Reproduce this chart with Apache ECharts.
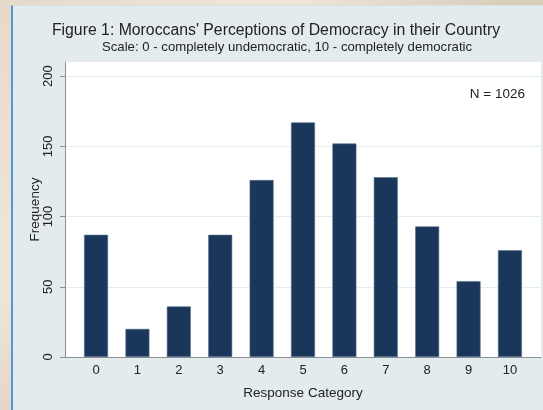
<!DOCTYPE html>
<html>
<head>
<meta charset="utf-8">
<script src="https://cdn.jsdelivr.net/npm/echarts@6/dist/echarts.min.js"></script>
<style>
  html, body { margin: 0; padding: 0; }
  body {
    width: 543px; height: 410px; overflow: hidden; position: relative;
    background: linear-gradient(135deg, #e6d9c8 0%, #efe6da 30%, #d9cbb9 55%, #ece3d6 80%, #ddd0bf 100%);
  }
  .panel {
    position: absolute; left: 11px; top: 5px; width: 532px; height: 405px;
    background: #e3ebee; border-left: 2px solid #5297d6; border-top: 1px solid #d6e1e5;
    box-sizing: border-box;
  }
  .chart { position: absolute; left: 0; top: 0; width: 543px; height: 410px; }
</style>
</head>
<body>
<div class="panel"></div>
<div class="chart"></div>
<script>
// 数据
var categories = [0, 1, 2, 3, 4, 5, 6, 7, 8, 9, 10];
var frequency = [87, 20, 36, 87, 126, 167, 152, 128, 93, 54, 76];
var yTicks = [0, 50, 100, 150, 200];

var chart = echarts.init(document.querySelector(".chart"));

var barData = categories.map(function (c, i) { return [c, frequency[i]]; });

var option = {
  animation: false,
  backgroundColor: 'transparent',
  textStyle: { fontFamily: 'Liberation Sans, Arial, sans-serif' },
  grid: {
    left: 65, right: 2, top: 62, bottom: 53,
    show: true, backgroundColor: '#ffffff', borderWidth: 0
  },
  graphic: [
    {
      type: 'text',
      style: {
        text: "Figure 1: Moroccans' Perceptions of Democracy in their Country",
        x: 276, y: 31, textAlign: 'center', textVerticalAlign: 'middle',
        font: '15.8px "Liberation Sans", Arial, sans-serif', fill: '#222'
      }
    },
    {
      type: 'text',
      style: {
        text: 'Scale: 0 - completely undemocratic, 10 - completely democratic',
        x: 287, y: 47.5, textAlign: 'center', textVerticalAlign: 'middle',
        font: '13.2px "Liberation Sans", Arial, sans-serif', fill: '#222'
      }
    },
    {
      type: 'text',
      style: {
        text: 'N = 1026',
        x: 525, y: 94, textAlign: 'right', textVerticalAlign: 'middle',
        font: '13.5px "Liberation Sans", Arial, sans-serif', fill: '#222'
      }
    }
  ],
  xAxis: {
    type: 'value',
    min: -0.75, max: 10.75,
    name: 'Response Category',
    nameLocation: 'middle', nameGap: 29, nameMoveOverlap: false,
    nameTextStyle: { fontSize: 13.5, color: '#222' },
    axisLine: { show: true, onZero: false, lineStyle: { color: '#8a8f92', width: 1 } },
    axisTick: { show: false },
    splitLine: { show: false },
    axisLabel: { customValues: categories, fontSize: 13, color: '#222', margin: 7 }
  },
  yAxis: {
    type: 'value',
    min: 0, max: 210,
    name: 'Frequency',
    nameLocation: 'middle', nameGap: 23, nameRotate: 90, nameMoveOverlap: false,
    nameTextStyle: { fontSize: 13.5, color: '#222' },
    axisLine: { show: true, onZero: false, lineStyle: { color: '#8a8f92', width: 1 } },
    axisTick: { show: true, length: 5, customValues: yTicks, lineStyle: { color: '#8a8f92' } },
    axisLabel: { customValues: yTicks, rotate: 90, fontSize: 13, color: '#222', margin: 10 },
    splitLine: { show: true, lineStyle: { color: '#e4eef2', width: 1 } }
  },
  series: [{
    type: 'bar',
    data: barData,
    barWidth: 24,
    itemStyle: { color: '#1a365b', borderColor: '#5d7591', borderWidth: 0.6 }
  }]
};

chart.setOption(option);
</script>
</body>
</html>
